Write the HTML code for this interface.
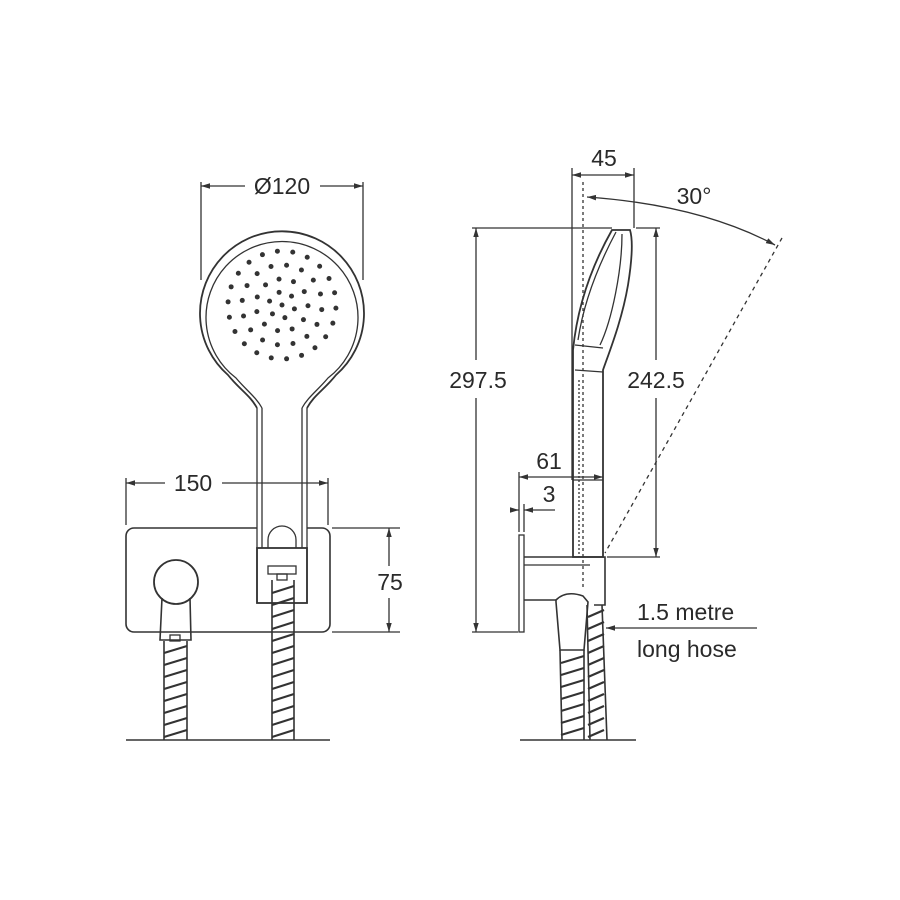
<!DOCTYPE html>
<html><head><meta charset="utf-8"><style>
html,body{margin:0;padding:0;background:#fff;}
svg{display:block}
text{font-family:"Liberation Sans",sans-serif;font-size:23px;fill:#2a2a2a}
</style></head><body>
<svg id="s" width="900" height="900" viewBox="0 0 900 900" xmlns="http://www.w3.org/2000/svg">
<defs>
<marker id="a" viewBox="0 0 10 10" refX="10" refY="5" markerWidth="7" markerHeight="7" orient="auto-start-reverse"><path d="M0,2 L10,5 L0,8z" fill="#333"/></marker>
</defs>
<g stroke="#333" stroke-width="1.3" fill="none">
<line x1="201" y1="182" x2="201" y2="280"/><line x1="363" y1="182" x2="363" y2="280"/>
<line x1="201" y1="186" x2="245" y2="186" marker-start="url(#a)"/><line x1="320" y1="186" x2="363" y2="186" marker-end="url(#a)"/>
<path d="M257,408 C250,395 240,390 228,375 A82,82 0 1 1 336,375 C324,390 314,395 307,408" stroke-width="1.8"/>
<path d="M262,408 C256,397 246,390 236,378 A76,76 0 1 1 328,378 C318,390 308,397 302,408"/>
<path d="M257,408 L257,603 M307,408 L307,603 M262,408 L262,548 M302,408 L302,548" />
<rect x="257" y="548" width="50" height="55" stroke-width="1.8"/>
<path d="M268,548 L268,540 A14,14 0 0 1 296,540 L296,548"/>
<rect x="268" y="566" width="28" height="8"/>
<rect x="277" y="574" width="10" height="6"/>
<path d="M134,528 H257 M307,528 H322 A8,8 0 0 1 330,536 V624 A8,8 0 0 1 322,632 H134 A8,8 0 0 1 126,624 V536 A8,8 0 0 1 134,528" stroke-width="1.6"/>
<line x1="126" y1="478" x2="126" y2="525"/><line x1="328" y1="478" x2="328" y2="525"/>
<line x1="126" y1="483" x2="165" y2="483" marker-start="url(#a)"/><line x1="222" y1="483" x2="328" y2="483" marker-end="url(#a)"/>
<line x1="332" y1="528" x2="400" y2="528"/><line x1="332" y1="632" x2="400" y2="632"/>
<line x1="389" y1="528" x2="389" y2="566" marker-start="url(#a)"/><line x1="389" y1="598" x2="389" y2="632" marker-end="url(#a)"/>
<circle cx="176" cy="582" r="22" stroke-width="1.8"/>
<path d="M162,598 L160,640 H191 L190,598" stroke-width="1.6"/>
<rect x="170" y="635" width="10" height="6"/>
<path d="M164,641 V740 M187,641 V740 M272,580 V740 M294,580 V740" stroke-width="1.6"/>
<g id="hs1"></g>
<line x1="126" y1="740" x2="330" y2="740" stroke-width="1.6"/>

<line x1="572" y1="168" x2="572" y2="480"/><line x1="634" y1="168" x2="634" y2="228"/>
<line x1="572" y1="175" x2="634" y2="175" marker-start="url(#a)" marker-end="url(#a)"/>
<line x1="583" y1="182" x2="583" y2="590" stroke-dasharray="3,3"/>
<path d="M587,197 Q700,205 775,245" marker-start="url(#a)" marker-end="url(#a)"/>
<line x1="782" y1="238" x2="605" y2="553" stroke-dasharray="4,4"/>
<line x1="472" y1="228" x2="612" y2="228"/><line x1="472" y1="632" x2="518" y2="632"/>
<line x1="476" y1="228" x2="476" y2="360" marker-start="url(#a)"/><line x1="476" y1="398" x2="476" y2="632" marker-end="url(#a)"/>
<line x1="636" y1="228" x2="660" y2="228"/><line x1="607" y1="557" x2="660" y2="557"/>
<line x1="656" y1="228" x2="656" y2="360" marker-start="url(#a)"/><line x1="656" y1="398" x2="656" y2="557" marker-end="url(#a)"/>
<path d="M573,557 V350 C578,300 595,260 612,230 L630,230 C633,240 632,260 628,285 C622,320 610,350 603,370 V557 Z" stroke-width="1.8"/>
<path d="M578,340 C584,300 600,262 616,232 M622,234 C622,270 612,320 600,345" />
<line x1="575" y1="345" x2="603" y2="348"/><line x1="575" y1="370" x2="603" y2="372"/>
<line x1="579" y1="380" x2="579" y2="557" stroke-dasharray="2,2"/>
<line x1="573" y1="480" x2="603" y2="480"/>
<path d="M524,557 H605 V605 H594 M524,600 H556" stroke-width="1.6"/>
<line x1="524" y1="565" x2="590" y2="565"/>
<rect x="519" y="535" width="5" height="97"/>
<line x1="519" y1="472" x2="519" y2="532"/>
<line x1="519" y1="477" x2="603" y2="477" marker-start="url(#a)" marker-end="url(#a)"/>
<line x1="510" y1="510" x2="519" y2="510" marker-end="url(#a)"/><line x1="555" y1="510" x2="524" y2="510" marker-end="url(#a)"/>
<line x1="524" y1="504" x2="524" y2="532"/>
<path d="M556,600 Q566,590 583,596 L588,602 L584,650 H560 L556,602 Z" stroke-width="1.6"/>
<path d="M560,650 L562,740 M584,650 L584,740 M587,605 L590,740 M602,605 L607,740" stroke-width="1.6"/>
<g id="hs2"></g>
<line x1="520" y1="740" x2="636" y2="740" stroke-width="1.6"/>
<line x1="757" y1="628" x2="606" y2="628" marker-end="url(#a)"/>
</g>
<g id="dots" fill="#333"></g>
<text x="282" y="194" text-anchor="middle">Ø120</text>
<text x="193" y="491" text-anchor="middle">150</text>
<text x="390" y="590" text-anchor="middle">75</text>
<text x="604" y="166" text-anchor="middle">45</text>
<text x="694" y="204" text-anchor="middle">30°</text>
<text x="478" y="388" text-anchor="middle">297.5</text>
<text x="656" y="388" text-anchor="middle">242.5</text>
<text x="549" y="469" text-anchor="middle">61</text>
<text x="549" y="502" text-anchor="middle">3</text>
<text x="637" y="620">1.5 metre</text>
<text x="637" y="657">long hose</text>
</svg>
<script>
var NS="http://www.w3.org/2000/svg";
function el(p,t,a){var e=document.createElementNS(NS,t);for(var k in a)e.setAttribute(k,a[k]);p.appendChild(e);return e;}
var d=document.getElementById("dots");
var rings=[[0,1],[13,6],[26,11],[40,16],[54,22]];
rings.forEach(function(r,i){for(var j=0;j<r[1];j++){var t=j/r[1]*2*Math.PI+i*0.3;el(d,"circle",{cx:282+r[0]*Math.cos(t),cy:305+r[0]*Math.sin(t),r:2.5});}});
function spiral(g,x1,x2,y0,y1){for(var y=y0;y<y1;y+=12){el(g,"line",{x1:x1,y1:y+7,x2:x2,y2:y,stroke:"#333","stroke-width":2.2});}}
var h1=document.getElementById("hs1");spiral(h1,164,187,646,735);spiral(h1,272,294,586,735);
var h2=document.getElementById("hs2");spiral(h2,561,584,656,735);spiral(h2,588,604,610,735);
</script>
</body></html>
